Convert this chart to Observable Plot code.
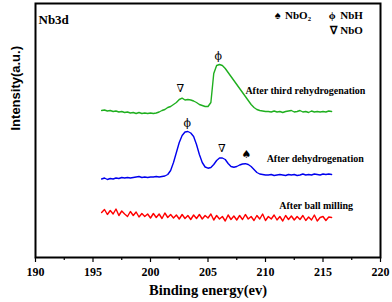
<!DOCTYPE html>
<html><head><meta charset="utf-8">
<script src="https://cdn.jsdelivr.net/npm/d3@7"></script>
<script src="https://cdn.jsdelivr.net/npm/@observablehq/plot@0.6"></script>
<style>
body{margin:0;background:#fff}
#chart svg{overflow:visible}
</style>
</head><body><div id="chart"></div>
<script>
const energy = [195.75,196,196.25,196.5,196.75,197,197.25,197.5,197.75,198,198.25,198.5,198.75,199,199.25,199.5,199.75,200,200.25,200.5,200.75,201,201.25,201.5,201.75,202,202.25,202.5,202.75,203,203.25,203.5,203.75,204,204.25,204.5,204.75,205,205.25,205.5,205.75,206,206.25,206.5,206.75,207,207.25,207.5,207.75,208,208.25,208.5,208.75,209,209.25,209.5,209.75,210,210.25,210.5,210.75,211,211.25,211.5,211.75,212,212.25,212.5,212.75,213,213.25,213.5,213.75,214,214.25,214.5,214.75,215,215.25,215.5,215.75];

const thirdRehydrogenation = [148,148.5,147.5,148,147,147.5,146.5,147,146,146.5,
145.5,146,145,146,145,145.5,145,145.5,145,145.5,
146.5,148,149,151,152,154,156,159,160.3,158.5,
159,158.5,157.5,156,154,153,152,152,156,185,
193,194,193,190,186,182,178,174,170,166,
162,158,154,151,149,148,147.5,147,
147,146.5,147.5,146.5,147,146,147,147.5,148,146.5,147,148,146.5,147,146,147.5,146.5,147,146.5,147,146.5,147.5,147];

const dehydrogenation = [79.5,80.5,79,80,79.5,80.5,80,81,80.5,81,
80.5,81,81.5,82,81,81.5,81,81.5,81.5,82,
81.5,82,82.5,84,88,96,106,116,123,126.5,
127,125.5,122,114,104,96,91.5,90.3,91,94,
98,100.5,100.5,99,95,92,91.3,92,93.5,94.5,
94.8,94,92,89,86,84.5,84,83.5,
83.5,84,83,83.5,84,83.5,83,84,83.5,84,83,83.5,84.5,83.5,84,83.5,84.5,84,83.5,84.5,84,84.5,84];

const ballMilling = [46,49,44,48,44.5,49.5,43,47.5,
44.5,42,47,43,46.5,41.5,45,42,
44.5,40.5,45,41,44.5,40,45.5,41,
44,40.5,43.5,39.5,44,40,43,39,
43.5,40,44,39.5,43,40.5,44.5,38.5,
43,39.5,42,37.5,43.5,39,42.5,38.5,
43,39,44,39.5,42,38,43,39.5,
44.5,38,42,39.5,43.5,38.5,42,37.5,
43,39,42.5,38.5,42,39,43,38,
41.5,38.5,43.5,37.5,41,42,38,41.5,
41];

const seriesNames = ["After third rehydrogenation", "After dehydrogenation", "After ball milling"];
const seriesColors = ["#1faf1f", "#0000ee", "#ff0000"];
const seriesValues = [thirdRehydrogenation, dehydrogenation, ballMilling];

// curve labels
const labelX = [208.25, 210.1, 211.2];
const labelY = [168, 100, 53];

// peak markers
const markerText = ["\u2207", "\u03D5", "\u03D5", "\u2207", "\u2660"];
const markerX = [202.6, 205.9, 203.2, 206.2, 208.35];
const markerY = [170, 202, 135, 110, 104];

// legend (top right)
const legendText = ["\u2660", "NbO\u2082", "\u03D5", "NbH", "\u2207", "NbO"];
const legendX = [210.8, 211.7, 215.5, 216.5, 215.6, 216.5];
const legendY = [243, 243, 243, 243, 228, 228];

const majorTicks = [190,195,200,205,210,215,220];
const minorTicks = [192.5,197.5,202.5,207.5,212.5,217.5];

const xTitle = "Binding energy(ev)";
const yTitle = "Intensity(a.u.)";

const rows = [];
seriesValues.forEach((vals, s) => {
  vals.forEach((v, i) => rows.push({series: seriesNames[s], x: energy[i], y: v}));
});
const labels = seriesNames.map((n, i) => ({t: n, x: labelX[i], y: labelY[i]}));
const markers = markerText.map((t, i) => ({t, x: markerX[i], y: markerY[i]}));
const legend = legendText.map((t, i) => ({t, x: legendX[i], y: legendY[i]}));

const chart = Plot.plot({
  width: 392,
  height: 302,
  marginLeft: 35,
  marginRight: 12,
  marginTop: 3,
  marginBottom: 45,
  style: {fontFamily: "'Liberation Serif', serif", fontSize: "12px", fontWeight: "bold", color: "#000", background: "#fff"},
  x: {domain: [190, 220]},
  y: {domain: [1, 255], axis: null},
  color: {domain: seriesNames, range: seriesColors},
  marks: [
    Plot.line(rows, {x: "x", y: "y", z: "series", stroke: "series", strokeWidth: 1.4}),
    Plot.text(labels, {x: "x", y: "y", text: "t", textAnchor: "start", fontSize: 10, fontWeight: "bold"}),
    Plot.text(markers, {x: "x", y: "y", text: "t", fontSize: 11, fontWeight: "normal", fontFamily: "DejaVu Serif"}),
    Plot.text(legend, {x: "x", y: "y", text: "t", textAnchor: "start", fontSize: 11, fontWeight: "bold"}),
    Plot.text(["Nb3d"], {frameAnchor: "top-left", dx: 3, dy: 11, fontSize: 13, fontWeight: "bold"}),
    Plot.text([yTitle], {frameAnchor: "left", dx: -20, rotate: -90, fontSize: 13, fontWeight: "bold", fontFamily: "'Liberation Sans', sans-serif"}),
    Plot.text([xTitle], {frameAnchor: "bottom", dy: 37, fontSize: 14.5, fontWeight: "bold"}),
    Plot.axisX({ticks: minorTicks, tickSize: 3, text: null, label: null, strokeWidth: 1.2}),
    Plot.axisX({ticks: majorTicks, tickSize: 5, tickPadding: 5, tickFormat: d => String(d), strokeWidth: 1.2, label: null, fontSize: 12, fontWeight: "bold"}),
    Plot.frame({strokeWidth: 2})
  ]
});
document.getElementById("chart").appendChild(chart);
</script>
</body></html>
